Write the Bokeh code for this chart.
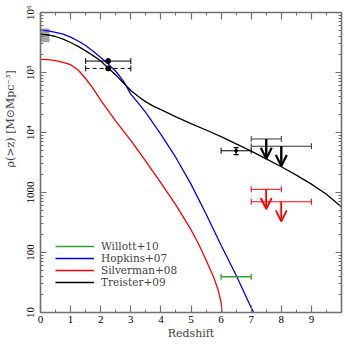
from bokeh.plotting import figure
from bokeh.models import (FixedTicker, LinearAxis, LogAxis, Whisker, TeeHead, Arrow,
                          OpenHead, ColumnDataSource, Legend, LegendItem, Range1d)
from bokeh.embed import file_html
from bokeh.resources import INLINE

# ---------------- data ----------------
hop_z = [0.0, 0.25, 0.5, 0.75, 1.0, 1.25, 1.5, 1.75, 2.0, 2.25, 2.5, 2.75, 3.0, 3.25,
         3.5, 4.0, 4.5, 5.0, 5.5, 6.0, 6.5, 7.0, 7.5]
hop_rho = [5.07e5, 4.95e5, 4.68e5, 4.37e5, 3.89e5, 3.35e5, 2.82e5, 2.26e5, 1.78e5,
           1.38e5, 1.05e5, 7.24e4, 4.37e4, 3.09e4, 2.14e4, 9.33e3, 3.80e3, 1.38e3,
           437, 132, 41.7, 12.0, 4.0]
sil_z = [0.0, 0.25, 0.5, 0.75, 1.0, 1.25, 1.5, 1.75, 2.0, 2.5, 3.0, 3.5, 4.0, 4.5,
         5.0, 5.25, 5.5, 5.75, 5.9, 6.0, 6.1]
sil_rho = [1.66e5, 1.64e5, 1.58e5, 1.48e5, 1.35e5, 1.10e5, 7.94e4, 5.37e4, 3.47e4,
           1.55e4, 7.41e3, 3.31e3, 1.45e3, 617, 240, 140, 75, 38.9, 24.0, 14.8, 4.0]
tre_z = [0.0, 0.25, 0.5, 0.75, 1.0, 1.25, 1.5, 1.75, 2.0, 2.25, 2.5, 2.75, 3.0, 3.25,
         3.5, 3.75, 4.0, 4.5, 5.0, 5.5, 6.0, 6.5, 7.0, 7.5, 8.0, 8.5, 9.0, 9.5, 10.0]
tre_rho = [4.37e5, 4.22e5, 3.98e5, 3.59e5, 3.16e5, 2.72e5, 2.29e5, 1.91e5, 1.55e5,
           1.19e5, 9.12e4, 6.76e4, 5.01e4, 3.98e4, 3.24e4, 2.75e4, 2.40e4, 1.82e4,
           1.41e4, 1.10e4, 8.51e3, 6.46e3, 4.90e3, 3.63e3, 2.69e3, 1.95e3, 1.38e3,
           933, 575]

local_zlo = [0.0]
local_zhi = [0.3]
local_rlo = [3.2e5]
local_rhi = [5.4e5]

solid_z = [2.25]
solid_rho = [1.55e5]
solid_zlo = [1.5]
solid_zhi = [3.0]

dash_z = [2.25]
dash_rho = [1.17e5]
dash_zlo = [1.5]
dash_zhi = [3.0]

pt_z = [6.5]
pt_rho = [4.96e3]
pt_zlo = [6.0]
pt_zhi = [7.0]
pt_rlo = [4.27e3]
pt_rhi = [5.6e3]

blk_lim_z = [7.5, 8.0]
blk_lim_rho = [7.8e3, 5.9e3]
blk_lim_zlo = [7.0, 7.0]
blk_lim_zhi = [8.0, 9.0]

red_lim_z = [7.5, 8.0]
red_lim_rho = [1.13e3, 700]
red_lim_zlo = [7.0, 7.0]
red_lim_zhi = [8.0, 9.0]

wil_z = [6.5]
wil_rho = [39.4]
wil_zlo = [6.0]
wil_zhi = [7.0]

x_ticks = [0, 1, 2, 3, 4, 5, 6, 7, 8, 9]
x_tick_labels = ["0", "1", "2", "3", "4", "5", "6", "7", "8", "9"]
x_minor = [0.5 * i for i in range(0, 21)]
y_ticks = [10, 100, 1000, 10000, 100000, 1000000]
y_tick_labels = ["10", "100", "1000", "10\u2074", "10\u2075", "10\u2076"]
y_minor = [m * 10 ** k for k in range(1, 6) for m in range(2, 10)]

legend_labels = ["Willott+10", "Hopkins+07", "Silverman+08", "Treister+09"]

# ---------------- styles ----------------
BLUE = "#0000ff"
RED = "#ff0000"
GREEN = "#33a02c"
AXC = "#707070"
ARROW_FACTOR = 0.47  # arrow length (style)

p = figure(frame_width=301, frame_height=300, x_range=Range1d(0, 10),
           y_range=Range1d(10, 1e6),
           y_axis_type="log", output_backend="svg", toolbar_location=None,
           min_border_left=31, min_border_right=11, min_border_top=12,
           min_border_bottom=31)
p.grid.visible = False
p.outline_line_color = None
p.background_fill_color = "white"
p.border_fill_color = "white"

p.quad(left=local_zlo, right=local_zhi, bottom=local_rlo, top=local_rhi,
       fill_color="#999999", fill_alpha=0.9, line_alpha=0)

r_hop = p.line(hop_z, hop_rho, line_color=BLUE, line_width=1.3)
r_sil = p.line(sil_z, sil_rho, line_color=RED, line_width=1.3)
r_tre = p.line(tre_z, tre_rho, line_color="black", line_width=1.3)


def hbar(rho, zlo, zhi, color, dash="solid", width=1.0, cap=6, stem=True):
    src = ColumnDataSource(dict(y=rho, lo=zlo, hi=zhi))
    w = Whisker(base="y", lower="lo", upper="hi", dimension="width", source=src,
                line_color=color, line_width=width, line_dash=dash,
                line_alpha=1.0 if stem else 0.0,
                upper_head=TeeHead(size=cap, line_color=color, line_width=width),
                lower_head=TeeHead(size=cap, line_color=color, line_width=width))
    p.add_layout(w)


hbar(solid_rho, solid_zlo, solid_zhi, "black")
hbar(dash_rho, dash_zlo, dash_zhi, "black", dash="4 3")
p.scatter(solid_z, solid_rho, size=5, color="black")
p.scatter(dash_z, dash_rho, size=5, color="black")

hbar(pt_rho, pt_zlo, pt_zhi, "black")
vsrc = ColumnDataSource(dict(x=pt_z, lo=pt_rlo, hi=pt_rhi))
p.add_layout(Whisker(base="x", lower="lo", upper="hi", dimension="height", source=vsrc,
                     line_color="black", line_width=1.2,
                     upper_head=TeeHead(size=5, line_color="black", line_width=1.2),
                     lower_head=TeeHead(size=5, line_color="black", line_width=1.2)))
p.scatter(pt_z, pt_rho, size=3, color="black")

hbar(blk_lim_rho, blk_lim_zlo, blk_lim_zhi, "#333333")
hbar(red_lim_rho, red_lim_zlo, red_lim_zhi, RED)
p.segment(x0=blk_lim_z, y0=blk_lim_rho, x1=blk_lim_z,
          y1=[r * ARROW_FACTOR for r in blk_lim_rho], line_color="black", line_width=2)
p.segment(x0=red_lim_z, y0=red_lim_rho, x1=red_lim_z,
          y1=[r * ARROW_FACTOR for r in red_lim_rho], line_color=RED, line_width=1.5)
bsrc = ColumnDataSource(dict(xs=blk_lim_z, ys=blk_lim_rho, xe=blk_lim_z,
                             ye=[r * ARROW_FACTOR for r in blk_lim_rho]))
p.add_layout(Arrow(x_start="xs", y_start="ys", x_end="xe", y_end="ye", source=bsrc,
                   line_color="black", line_width=2,
                   end=OpenHead(size=11, line_color="black", line_width=2.2)))
rsrc = ColumnDataSource(dict(xs=red_lim_z, ys=red_lim_rho, xe=red_lim_z,
                             ye=[r * ARROW_FACTOR for r in red_lim_rho]))
p.add_layout(Arrow(x_start="xs", y_start="ys", x_end="xe", y_end="ye", source=rsrc,
                   line_color=RED, line_width=1.5,
                   end=OpenHead(size=11, line_color=RED, line_width=1.8)))

r_wil = p.segment(x0=wil_zlo, y0=wil_rho, x1=wil_zhi, y1=wil_rho, line_color=GREEN,
                  line_width=1.3)
hbar(wil_rho, wil_zlo, wil_zhi, GREEN, width=1.3, stem=False)

# ---------------- axes ----------------
FONT = "DejaVu Serif"
TFONT = "Liberation Serif"


def style_axis(ax, tick_len):
    ax.axis_line_color = AXC
    ax.axis_line_width = 1.6
    ax.major_tick_line_color = AXC
    ax.minor_tick_line_color = AXC
    ax.major_tick_line_width = 1.2
    ax.minor_tick_line_width = 1.0
    ax.major_tick_in = tick_len
    ax.major_tick_out = 0
    ax.minor_tick_in = tick_len // 2
    ax.minor_tick_out = 0
    ax.major_label_text_font = TFONT
    ax.major_label_text_font_size = "11px"
    ax.major_label_text_color = "black"


xb = p.xaxis[0]
xb.ticker = FixedTicker(ticks=x_ticks, minor_ticks=x_minor)
xb.major_label_overrides = dict(zip(x_ticks, x_tick_labels))
style_axis(xb, 7)
xb.major_label_standoff = 3
xb.axis_label = "Redshift"
xb.axis_label_text_font = FONT
xb.axis_label_text_font_size = "11px"
xb.axis_label_text_font_style = "normal"
xb.axis_label_standoff = 1

yl = p.yaxis[0]
yl.ticker = FixedTicker(ticks=y_ticks, minor_ticks=y_minor)
yl.major_label_overrides = dict(zip(y_ticks, y_tick_labels))
style_axis(yl, 6)
yl.major_label_orientation = "vertical"
yl.major_label_standoff = 5
yl.axis_label = "\u00a0" * 26 + "\u03c1(>z)  [M\u2299Mpc\u207b\u00b3]"
yl.axis_label_text_font = FONT
yl.axis_label_text_font_size = "11px"
yl.axis_label_text_font_style = "normal"
yl.axis_label_standoff = 4

xt = LinearAxis(ticker=FixedTicker(ticks=x_ticks, minor_ticks=x_minor))
style_axis(xt, 7)
xt.major_label_text_alpha = 0
xt.major_label_text_font_size = "1px"
xt.major_label_standoff = 0
p.add_layout(xt, "above")
yr = LogAxis(ticker=FixedTicker(ticks=y_ticks, minor_ticks=y_minor))
style_axis(yr, 6)
yr.major_label_text_alpha = 0
yr.major_label_text_font_size = "1px"
yr.major_label_standoff = 0
p.add_layout(yr, "right")

legend = Legend(items=[LegendItem(label=legend_labels[0], renderers=[r_wil]),
                       LegendItem(label=legend_labels[1], renderers=[r_hop]),
                       LegendItem(label=legend_labels[2], renderers=[r_sil]),
                       LegendItem(label=legend_labels[3], renderers=[r_tre])],
                location=(15, 24), glyph_width=39, glyph_height=12, label_height=12,
                spacing=0, padding=0, margin=0, label_standoff=7,
                label_text_font=FONT, label_text_font_size="10.5px",
                border_line_color=None, background_fill_alpha=0)
p.add_layout(legend)

open("out.html", "w").write(file_html(p, INLINE))
